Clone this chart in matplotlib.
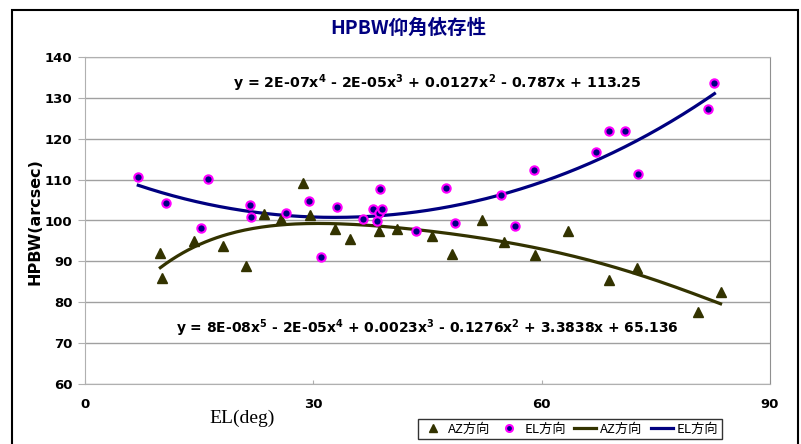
import numpy as np
import matplotlib
matplotlib.use('Agg')
import matplotlib.pyplot as plt
from matplotlib.lines import Line2D
from matplotlib.patches import Rectangle

plt.rcParams['font.family'] = ['DejaVu Sans', 'Noto Sans CJK JP']
plt.rcParams['mathtext.fontset'] = 'dejavusans'

# AZ direction measurements (EL deg, HPBW arcsec)
az_el = [9.9, 10.1, 14.3, 18.1, 21.2, 23.5, 25.8, 28.6, 29.5, 32.9, 34.8, 38.6,
         41.0, 45.6, 48.2, 52.1, 55.0, 59.1, 63.5, 68.8, 72.5, 80.6, 83.5]
az_hpbw = [92.0, 86.0, 94.9, 93.8, 88.8, 101.6, 100.3, 109.1, 101.4, 98.0, 95.4, 97.4,
           98.0, 96.1, 91.7, 100.2, 94.8, 91.5, 97.4, 85.5, 88.5, 77.6, 82.4]

# EL direction measurements
el_el = [7.0, 10.6, 16.1, 15.3, 21.7, 21.8, 26.4, 29.4, 33.1, 31.0, 36.5, 37.8,
         38.7, 38.6, 39.0, 38.4, 43.5, 47.4, 48.6, 54.6, 56.5, 59.0, 67.1, 68.8,
         71.0, 72.6, 81.9, 82.7]
el_hpbw = [110.6, 104.2, 110.1, 98.1, 103.7, 100.9, 101.8, 104.7, 103.2, 91.0, 100.4, 102.9,
           107.8, 101.9, 102.9, 99.9, 97.4, 108.0, 99.3, 106.2, 98.6, 112.4, 116.7, 122.0,
           122.0, 111.3, 127.3, 133.7]

eq_el = r'y = 2E-07x$^\mathbf{4}$ - 2E-05x$^\mathbf{3}$ + 0.0127x$^\mathbf{2}$ - 0.787x + 113.25'
eq_az = (r'y = 8E-08x$^\mathbf{5}$ - 2E-05x$^\mathbf{4}$ + 0.0023x$^\mathbf{3}$'
         r' - 0.1276x$^\mathbf{2}$ + 3.3838x + 65.136')

AZ_COL = '#333300'
EL_COL = '#000080'

fig = plt.figure(figsize=(8.01, 4.44), dpi=100)
ax = fig.add_axes([85/801, 60/444, 685/801, 327/444])

# polynomial trend lines like the Excel ones
xa = np.linspace(min(az_el), max(az_el), 200)
pa = np.polyfit(az_el, az_hpbw, 5)
xe = np.linspace(min(el_el), max(el_el), 200)
pe = np.polyfit(el_el, el_hpbw, 4)

ax.plot(az_el, az_hpbw, '^', color=AZ_COL, ms=6.5, zorder=3)
ax.plot(el_el, el_hpbw, 'o', color=EL_COL, mec='#ff00ff', mew=1.5, ms=6, zorder=3)
ax.plot(xa, np.polyval(pa, xa), color=AZ_COL, lw=2.3, zorder=2)
ax.plot(xe, np.polyval(pe, xe), color=EL_COL, lw=2.3, zorder=2)

ax.set_xlim(0, 90)
ax.set_ylim(60, 140)
ax.set_xticks([0, 30, 60, 90])
ax.set_yticks(range(60, 141, 10))
ax.yaxis.grid(True, color='#a0a0a0', lw=1)
ax.set_axisbelow(True)
for s in ax.spines.values():
    s.set_color('#b0b0b0')
ax.spines['right'].set_color('#909090')
ax.tick_params(axis='both', colors='#b0b0b0', labelcolor='black')
ax.tick_params(axis='y', pad=4, length=5)
ax.tick_params(axis='x', pad=10, length=3, direction='in')
for lab in ax.get_xticklabels() + ax.get_yticklabels():
    lab.set_fontweight('bold')
    lab.set_fontsize(9.5)

fig.text(35/801, 1 - 222/444, 'HPBW(arcsec)', fontsize=11.5, fontweight='bold',
         rotation=90, ha='center', va='center')
fig.text(242/801, 1 - 418/444, 'EL(deg)', fontsize=14, family=['Liberation Serif', 'DejaVu Serif'],
         ha='center', va='center')

fig.text(408/801, 1 - 28/444, 'HPBW仰角依存性', fontsize=14, color=EL_COL, fontweight='bold',
         family=['Noto Sans CJK JP', 'DejaVu Sans'], ha='center', va='center')

ax.text((437 - 85) / 685, 1 - (83 - 57) / 327, eq_el,
        transform=ax.transAxes, ha='center', va='center', fontsize=10.2, fontweight='bold')
ax.text((427 - 85) / 685, 1 - (328 - 57) / 327, eq_az,
        transform=ax.transAxes, ha='center', va='center', fontsize=10.0, fontweight='bold')

handles = [
    Line2D([], [], ls='none', marker='^', color=AZ_COL, ms=6),
    Line2D([], [], ls='none', marker='o', color=EL_COL, mec='#ff00ff', mew=1.5, ms=5),
    Line2D([], [], color=AZ_COL, lw=2.3),
    Line2D([], [], color=EL_COL, lw=2.3),
]
labels = ['AZ方向', 'EL方向', 'AZ方向', 'EL方向']
leg = fig.legend(handles, labels, loc='center', bbox_to_anchor=(570/801, 1 - 429/444),
                 ncol=4, frameon=True, fancybox=False, edgecolor='black',
                 handlelength=1.7, handletextpad=0.3, columnspacing=0.6, borderpad=0.25,
                 prop={'family': ['Noto Sans CJK JP', 'DejaVu Sans'], 'size': 9.5})
leg.get_frame().set_linewidth(1.0)

# outer chart border
fig.patches.append(Rectangle((12/801, -0.05), (798 - 12)/801, 1.05 - 10/444,
                             transform=fig.transFigure, fill=False, ec='black', lw=1.5))

fig.savefig('out.png', dpi=100)
